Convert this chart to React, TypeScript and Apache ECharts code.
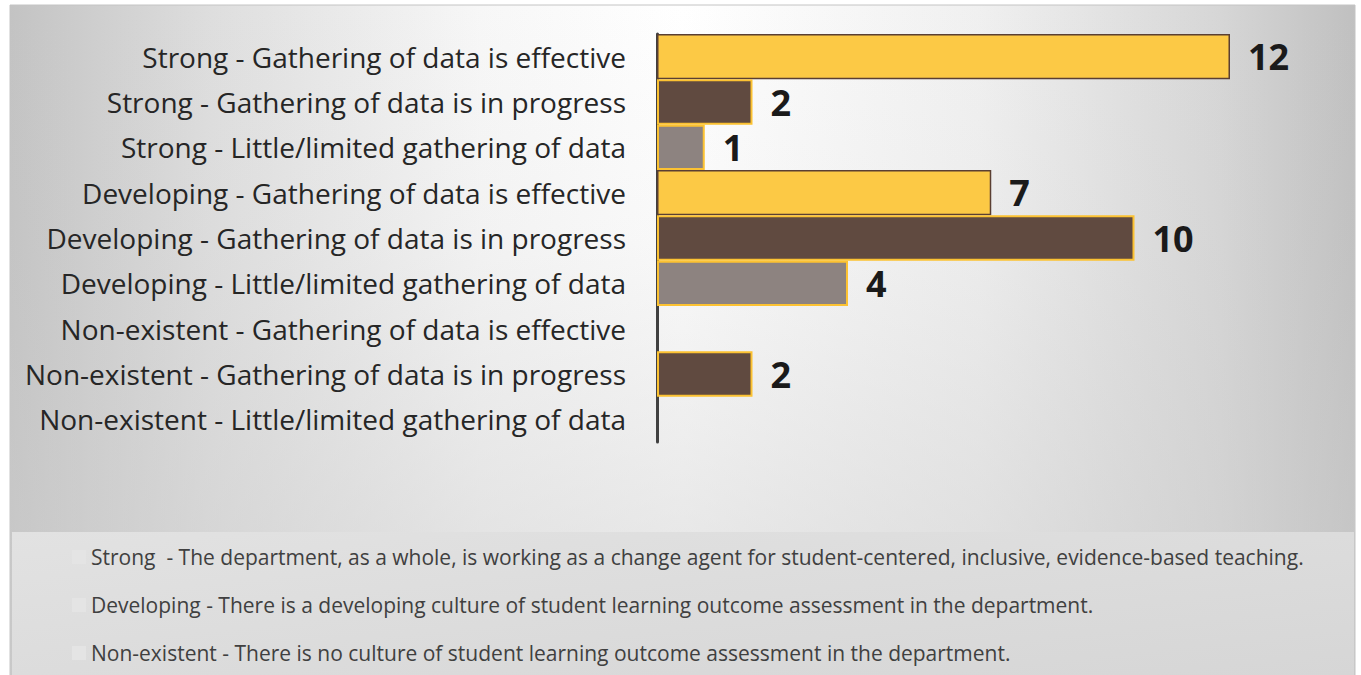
import React, { useEffect, useRef } from "react";
import * as echarts from "echarts";

const categories = [
  "Strong - Gathering of data is effective",
  "Strong - Gathering of data is in progress",
  "Strong - Little/limited gathering of data",
  "Developing - Gathering of data is effective",
  "Developing - Gathering of data is in progress",
  "Developing - Little/limited gathering of data",
  "Non-existent - Gathering of data is effective",
  "Non-existent - Gathering of data is in progress",
  "Non-existent - Little/limited gathering of data",
];
const values: (number | null)[] = [12, 2, 1, 7, 10, 4, null, 2, null];
const stages = ["effective", "progress", "limited", "effective", "progress", "limited", "effective", "progress", "limited"];
const legendTexts = [
  "Strong  - The department, as a whole, is working as a change agent for student-centered, inclusive, evidence-based teaching.",
  "Developing - There is a developing culture of student learning outcome assessment in the department.",
  "Non-existent - There is no culture of student learning outcome assessment in the department.",
];

const stageStyle: Record<string, any> = {
  effective: { color: "#FCC945", borderColor: "#5A3F33", borderWidth: 1.5 },
  progress: { color: "#604A40", borderColor: "#FCC232", borderWidth: 2 },
  limited: { color: "#8D8380", borderColor: "#FCC232", borderWidth: 2 },
};

export default function App() {
  const ref = useRef<HTMLDivElement>(null);
  useEffect(() => {
    const chart = echarts.init(ref.current!, null, { renderer: "svg" });
    const font = "'Open Sans', 'Noto Sans', sans-serif";
    const graphics: any[] = [
      {
        type: "rect",
        silent: true,
        z: -10,
        shape: { x: 10, y: 5, width: 1345, height: 670 },
        style: {
          fill: {
            type: "linear",
            x: 0,
            y: 0,
            x2: 1,
            y2: 0,
            colorStops: [
              { offset: 0, color: "#c3c3c3" },
              { offset: 0.15, color: "#dedede" },
              { offset: 0.35, color: "#f7f7f7" },
              { offset: 0.5, color: "#ffffff" },
              { offset: 0.72, color: "#f0f0f0" },
              { offset: 0.9, color: "#d6d6d6" },
              { offset: 1, color: "#c0c0c0" },
            ],
          },
          stroke: "#c4c4c4",
          lineWidth: 1,
        },
      },
      {
        type: "rect",
        silent: true,
        z: -9.5,
        shape: { x: 10, y: 5, width: 1345, height: 670 },
        style: {
          fill: {
            type: "linear",
            x: 0,
            y: 0,
            x2: 0,
            y2: 1,
            colorStops: [
              { offset: 0, color: "rgba(205,205,205,0)" },
              { offset: 0.35, color: "rgba(205,205,205,0.12)" },
              { offset: 0.78, color: "rgba(205,205,205,0.45)" },
              { offset: 1, color: "rgba(205,205,205,0.55)" },
            ],
          },
        },
      },
      {
        type: "rect",
        silent: true,
        z: -9,
        shape: { x: 12, y: 532, width: 1342, height: 143 },
        style: {
          fill: {
            type: "linear",
            x: 0,
            y: 0,
            x2: 1,
            y2: 1,
            colorStops: [
              { offset: 0, color: "#e2e2e2" },
              { offset: 1, color: "#d6d6d6" },
            ],
          },
        },
      },
    ];
    legendTexts.forEach((t, i) => {
      graphics.push({
        type: "rect",
        silent: true,
        z: -8,
        shape: { x: 72, y: 550 + i * 48, width: 14, height: 14 },
        style: { fill: "#e4e4e4" },
      });
      graphics.push({
        type: "text",
        silent: true,
        z: -8,
        x: 91,
        y: 557 + i * 48,
        style: {
          text: t,
          fill: "#404040",
          font: `21px ${font}`,
          textVerticalAlign: "middle",
          verticalAlign: "middle",
        },
      });
    });

    chart.setOption({
      animation: false,
      graphic: graphics,
      grid: { left: 657, right: 131, top: 34, bottom: 233, containLabel: false },
      xAxis: {
        type: "value",
        min: 0,
        max: 12,
        show: false,
      },
      yAxis: {
        type: "category",
        inverse: true,
        data: categories,
        axisLine: { show: true, lineStyle: { color: "#404040", width: 3 } },
        axisTick: { show: false },
        axisLabel: {
          margin: 31,
          fontSize: 28,
          color: "#262626",
          fontFamily: font,
        },
      },
      series: [
        {
          type: "bar",
          barCategoryGap: "0%",
          data: values.map((v, i) => ({
            value: v == null ? "-" : v,
            itemStyle: stageStyle[stages[i]],
          })),
          label: {
            show: true,
            position: "right",
            distance: 18,
            fontSize: 36,
            fontWeight: "bold",
            color: "#1a1a1a",
            fontFamily: font,
          },
        },
      ],
    });
    return () => chart.dispose();
  }, []);
  return (
    <div
      ref={ref}
      style={{ position: "absolute", left: 0, top: 0, width: 1361, height: 675 }}
    />
  );
}
